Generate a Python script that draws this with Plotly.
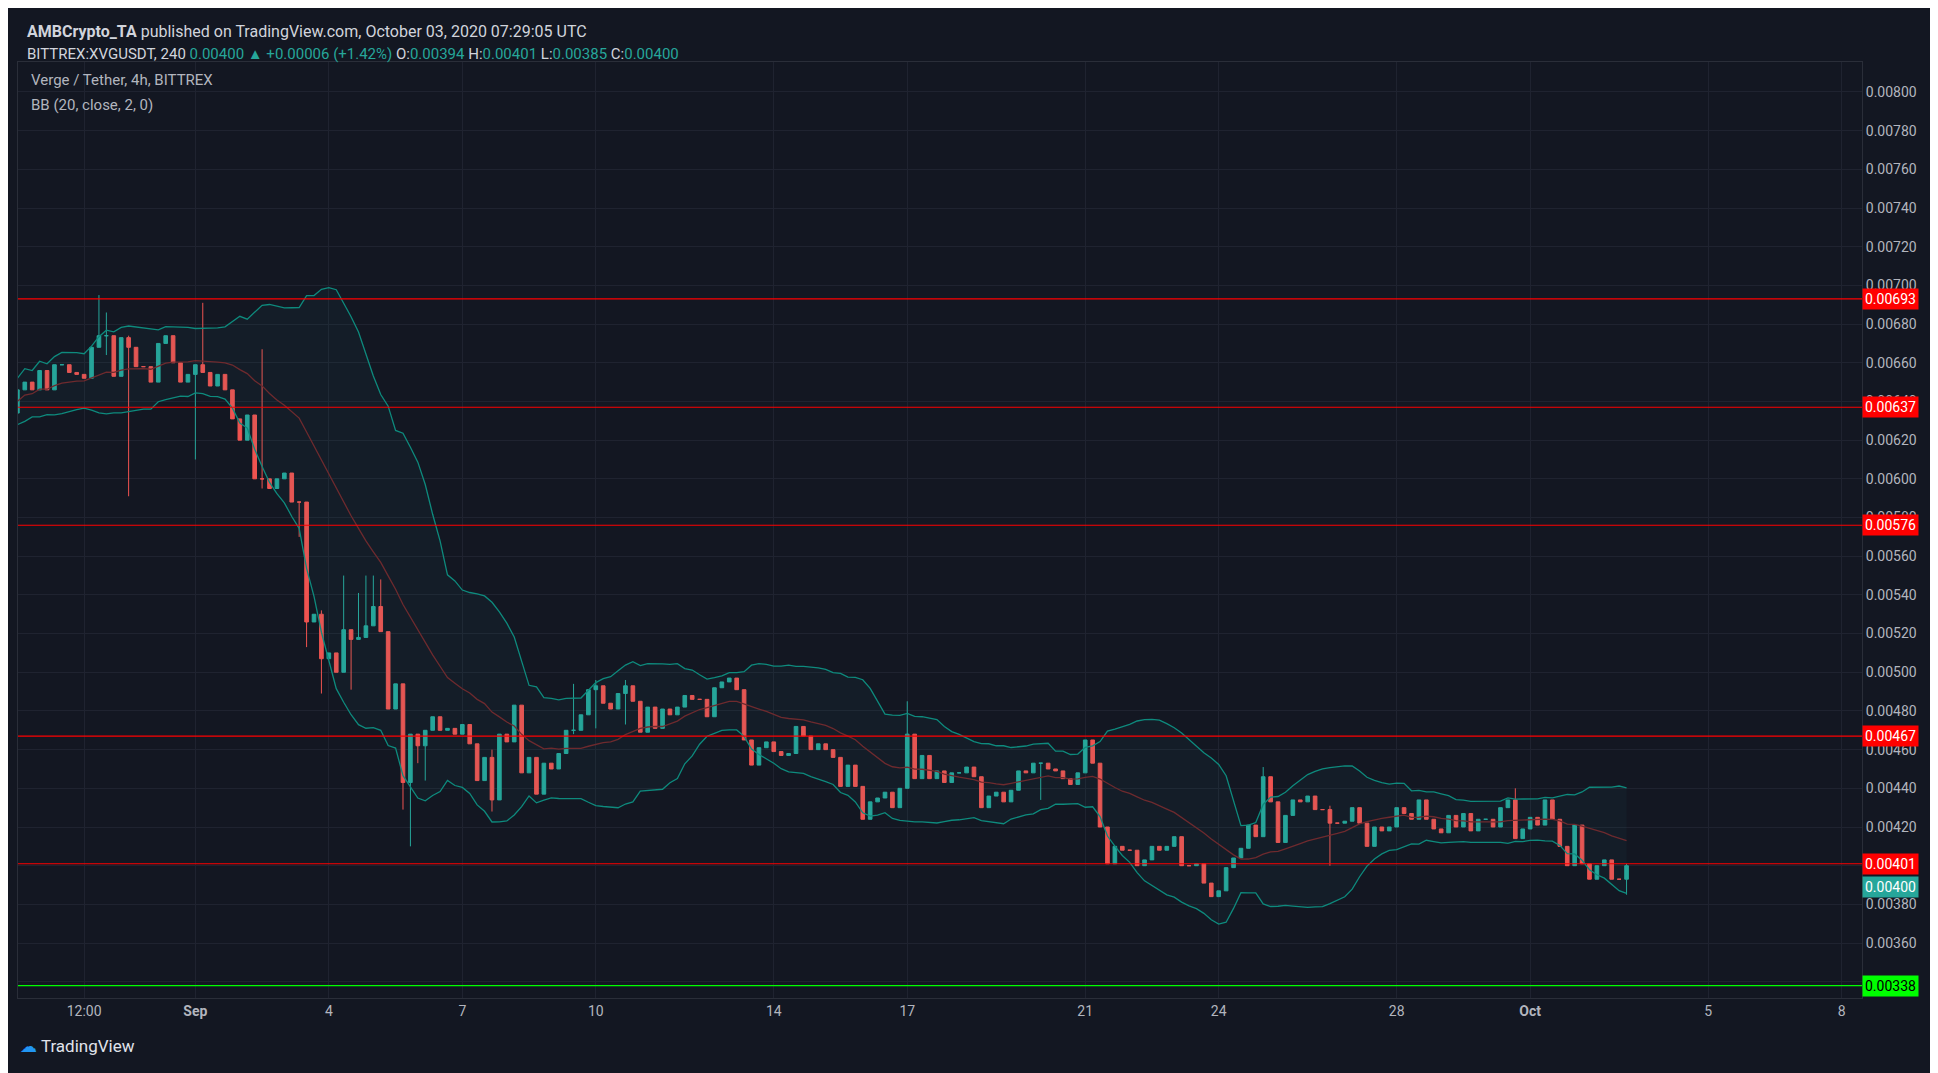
import pandas as pd
import plotly.graph_objects as go

# 4h closes, XVG/USDT (first candle Aug 27 20:00)
closes = [
    0.00634, 0.00646, 0.00650, 0.00646, 0.00656, 0.00646, 0.00659, 0.00659, 0.00655, 0.00654,
    0.00652, 0.00668, 0.00674, 0.00674, 0.00653, 0.00673, 0.00668, 0.00658, 0.00658, 0.00650,
    0.00670, 0.00674, 0.00660, 0.00650, 0.00654, 0.00659, 0.00655, 0.00648, 0.00654, 0.00646,
    0.00631, 0.00620, 0.00633, 0.00600, 0.00600, 0.00595, 0.00600, 0.00603, 0.00588, 0.00588,
    0.00526, 0.00530, 0.00507, 0.00510, 0.00500, 0.00522, 0.00517, 0.00518, 0.00524, 0.00534,
    0.00521, 0.00481, 0.00494, 0.00443, 0.00468, 0.00462, 0.00470, 0.00477, 0.00470, 0.00471,
    0.00468, 0.00473, 0.00463, 0.00444, 0.00456, 0.00434, 0.00468, 0.00464, 0.00483, 0.00448,
    0.00456, 0.00437, 0.00453, 0.00450, 0.00458, 0.00470, 0.00470, 0.00478, 0.00491, 0.00493,
    0.00484, 0.00481, 0.00489, 0.00493, 0.00485, 0.00469, 0.00482, 0.00471, 0.00481, 0.00478,
    0.00482, 0.00488, 0.00486, 0.00486, 0.00477, 0.00492, 0.00495, 0.00497, 0.00491, 0.00465,
    0.00452, 0.00461, 0.00464, 0.00459, 0.00457, 0.00458, 0.00472, 0.00467, 0.00460, 0.00463,
    0.00460, 0.00456, 0.00441, 0.00452, 0.00441, 0.00424, 0.00433, 0.00435, 0.00438, 0.00430,
    0.00440, 0.00468, 0.00445, 0.00457, 0.00445, 0.00449, 0.00443, 0.00448, 0.00448, 0.00451,
    0.00446, 0.00430, 0.00436, 0.00438, 0.00433, 0.00439, 0.00449, 0.00448, 0.00453, 0.00453,
    0.00450, 0.00449, 0.00445, 0.00442, 0.00448, 0.00465, 0.00453, 0.00420, 0.00401, 0.00410,
    0.00408, 0.00408, 0.00400, 0.00403, 0.00410, 0.00408, 0.00410, 0.00415, 0.00400, 0.00400,
    0.00401, 0.00391, 0.00384, 0.00387, 0.00399, 0.00404, 0.00409, 0.00421, 0.00415, 0.00446,
    0.00433, 0.00412, 0.00426, 0.00434, 0.00433, 0.00436, 0.00429, 0.00429, 0.00422, 0.00422,
    0.00423, 0.00430, 0.00422, 0.00410, 0.00420, 0.00418, 0.00420, 0.00430, 0.00427, 0.00424,
    0.00434, 0.00424, 0.00419, 0.00417, 0.00426, 0.00420, 0.00427, 0.00418, 0.00424, 0.00424,
    0.00420, 0.00430, 0.00434, 0.00414, 0.00419, 0.00425, 0.00421, 0.00434, 0.00424, 0.00410,
    0.00400, 0.00421, 0.00401, 0.00393, 0.00400, 0.00403, 0.00393, 0.00393, 0.00400,
]
first_open = 0.00634

# visible wicks: candle index -> (high, low)
wicks = {
    0: (0.00635, 0.00629), 12: (0.00695, 0.00673), 13: (0.00686, 0.00664), 16: (0.00674, 0.00591),
    25: (0.00659, 0.00610), 26: (0.00691, 0.00655), 34: (0.00667, 0.00595), 39: (0.00588, 0.00570),
    40: (0.00588, 0.00513), 42: (0.00532, 0.00489), 45: (0.00550, 0.00500), 46: (0.00522, 0.00491),
    47: (0.00541, 0.00517), 48: (0.00550, 0.00518), 49: (0.00550, 0.00524), 50: (0.00548, 0.00521),
    53: (0.00494, 0.00429), 54: (0.00468, 0.00410), 55: (0.00468, 0.00453), 56: (0.00470, 0.00444),
    65: (0.00460, 0.00428), 76: (0.00494, 0.00468), 79: (0.00496, 0.00471), 83: (0.00496, 0.00473),
    121: (0.00485, 0.00440), 139: (0.00453, 0.00434), 169: (0.00451, 0.00415),
    178: (0.00431, 0.00400), 203: (0.00440, 0.00414), 218: (0.00401, 0.00385),
}

levels_red = [0.00693, 0.00637, 0.00576, 0.00467, 0.00401]
level_green = 0.00338
last_price = 0.00400

tick_vals = ["2020-08-29 12:00", "2020-09-01", "2020-09-04", "2020-09-07", "2020-09-10",
             "2020-09-14", "2020-09-17", "2020-09-21", "2020-09-24", "2020-09-28",
             "2020-10-01", "2020-10-05", "2020-10-08"]
tick_text = ["12:00", "<b>Sep</b>", "4", "7", "10", "14", "17", "21", "24", "28", "<b>Oct</b>", "5", "8"]

# build OHLC
times = pd.date_range("2020-08-27 20:00", periods=len(closes), freq="4h")
opens = [first_open] + closes[:-1]
highs, lows = [], []
for i, (o, c) in enumerate(zip(opens, closes)):
    h, l = wicks.get(i, (max(o, c), min(o, c)))
    highs.append(max(h, o, c))
    lows.append(min(l, o, c))
df = pd.DataFrame({"t": times, "o": opens, "h": highs, "l": lows, "c": closes})

# Bollinger bands 20, 2
basis = df["c"].rolling(20, min_periods=2).mean()
dev = df["c"].rolling(20, min_periods=2).std(ddof=0)
upper = basis + 2 * dev
lower = basis - 2 * dev

bg = "#131722"
fig = go.Figure()
fig.add_trace(go.Scatter(x=df["t"], y=upper, mode="lines", line=dict(color="#0e8a7d", width=1.3),
                         hoverinfo="skip", showlegend=False))
fig.add_trace(go.Scatter(x=df["t"], y=lower, mode="lines", line=dict(color="#0e8a7d", width=1.3),
                         fill="tonexty", fillcolor="rgba(38,166,154,0.05)", hoverinfo="skip", showlegend=False))
fig.add_trace(go.Scatter(x=df["t"], y=basis, mode="lines", line=dict(color="#6e2a2e", width=1.3),
                         hoverinfo="skip", showlegend=False))
fig.add_trace(go.Candlestick(
    x=df["t"], open=df["o"], high=df["h"], low=df["l"], close=df["c"],
    increasing=dict(line=dict(color="#26a69a", width=1), fillcolor="#26a69a"),
    decreasing=dict(line=dict(color="#ef5350", width=1), fillcolor="#ef5350"),
    whiskerwidth=0, showlegend=False))

for lv in levels_red:
    fig.add_hline(y=lv, line=dict(color="#ff0000", width=1.2))
    fig.add_annotation(x=1, xref="paper", y=lv, yref="y", text=f"{lv:.5f}", showarrow=False,
                       xanchor="left", bgcolor="#ff0000", font=dict(color="white", size=14),
                       borderpad=2)
fig.add_hline(y=level_green, line=dict(color="#00ff00", width=1.2))
fig.add_annotation(x=1, xref="paper", y=level_green, yref="y", text=f"{level_green:.5f}",
                   showarrow=False, xanchor="left", bgcolor="#00ff00",
                   font=dict(color="black", size=14), borderpad=2)
fig.add_annotation(x=1, xref="paper", y=last_price - 0.00011, yref="y", text=f"{last_price:.5f}",
                   showarrow=False, xanchor="left", bgcolor="#26a69a",
                   font=dict(color="white", size=14), borderpad=2)

# header & legend text
fig.add_annotation(x=0.004, xref="paper", y=1.045, yref="paper", xanchor="left", showarrow=False,
                   text="<b>AMBCrypto_TA</b> published on TradingView.com, October 03, 2020 07:29:05 UTC",
                   font=dict(color="#d1d4dc", size=16))
fig.add_annotation(x=0.004, xref="paper", y=1.02, yref="paper", xanchor="left", showarrow=False,
                   text=("BITTREX:XVGUSDT, 240 <span style='color:#26a69a'>0.00400 ▲ +0.00006 (+1.42%)</span>"
                         " O:<span style='color:#26a69a'>0.00394</span> H:<span style='color:#26a69a'>0.00401</span>"
                         " L:<span style='color:#26a69a'>0.00385</span> C:<span style='color:#26a69a'>0.00400</span>"),
                   font=dict(color="#d1d4dc", size=15))
fig.add_annotation(x=0.006, xref="paper", y=0.993, yref="paper", xanchor="left", showarrow=False,
                   text="Verge / Tether, 4h, BITTREX", font=dict(color="#b2b5be", size=15))
fig.add_annotation(x=0.006, xref="paper", y=0.966, yref="paper", xanchor="left", showarrow=False,
                   text="BB (20, close, 2, 0)", font=dict(color="#b2b5be", size=15))
fig.add_annotation(x=0.0, xref="paper", y=-0.064, yref="paper", xanchor="left", showarrow=False,
                   text="<span style='color:#2196f3'>☁</span> TradingView",
                   font=dict(color="#e0e3eb", size=17))

fig.update_layout(
    width=1938, height=1073,
    paper_bgcolor=bg, plot_bgcolor=bg,
    margin=dict(l=10, r=84, t=54, b=83),
    font=dict(family="Roboto, Liberation Sans, sans-serif", color="#b2b5be"),
    xaxis=dict(range=["2020-08-28 00:20", "2020-10-08 11:00"], rangeslider=dict(visible=False),
               tickvals=tick_vals, ticktext=tick_text, showgrid=True, gridcolor="#1f2330",
               tickfont=dict(size=14, color="#b2b5be"), showline=True, linecolor="#2a2e39",
               mirror=True, zeroline=False),
    yaxis=dict(side="right", range=[0.003316, 0.008155], dtick=0.0002, tick0=0.0, tickformat=".5f",
               showgrid=True, gridcolor="#1f2330", tickfont=dict(size=14, color="#b2b5be"),
               showline=True, linecolor="#2a2e39", mirror=True, zeroline=False),
)

fig.write_html("out.html")
